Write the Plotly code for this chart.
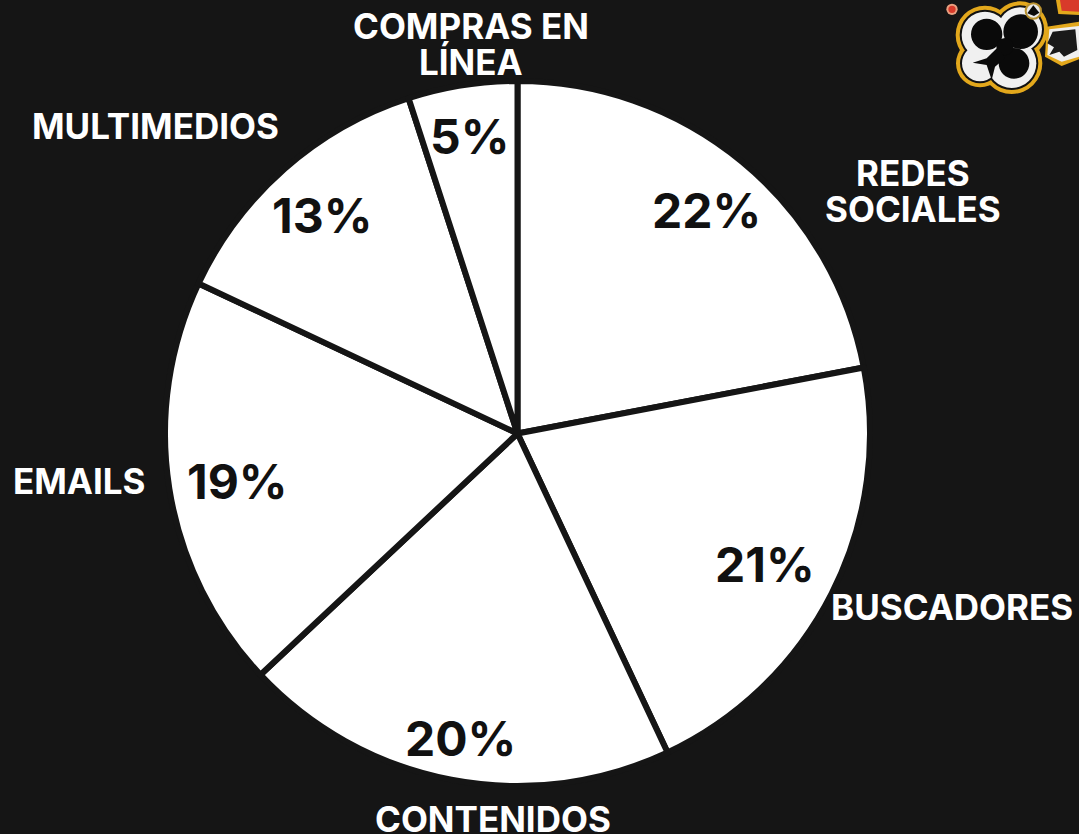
import plotly.graph_objects as go

categories = ["Redes sociales", "Buscadores", "Contenidos", "Emails", "Multimedios", "Compras en línea"]
values = [22, 21, 20, 19, 13, 5]
pct_labels = ["22%", "21%", "20%", "19%", "13%", "5%"]
cat_labels = [
    ("REDES", 913, 173), ("SOCIALES", 913, 209), ("BUSCADORES", 952, 607),
    ("CONTENIDOS", 493, 819), ("EMAILS", 79, 481), ("MULTIMEDIOS", 155, 126),
    ("COMPRAS EN", 471, 26), ("LÍNEA", 471, 62),
]
pct_pos = [(706, 210), (765, 564), (460, 738), (237, 481), (322, 216), (469, 136)]
W, H = 1079, 834
BG = "#151515"
FONT = "Inter, Lato, sans-serif"

fig = go.Figure(go.Pie(
    labels=categories, values=values, sort=False, direction="clockwise", rotation=0,
    marker=dict(colors=["#ffffff"] * 6, line=dict(color=BG, width=6)),
    textinfo="none", hoverinfo="label+percent", showlegend=False,
    domain=dict(x=[165 / W, 870 / W], y=[1 - 786 / H, 1 - 81 / H]),
))
for t, (x, y) in zip(pct_labels, pct_pos):
    fig.add_annotation(text=f"<b>{t}</b>", x=x / W, y=1 - y / H, xref="paper", yref="paper",
                       xanchor="center", yanchor="middle", showarrow=False,
                       font=dict(family=FONT, size=48, color="#111111"))
for t, x, y in cat_labels:
    fig.add_annotation(text=f"<b>{t}</b>", x=x / W, y=1 - y / H, xref="paper", yref="paper",
                       xanchor="center", yanchor="middle", showarrow=False,
                       font=dict(family=FONT, size=35, color="#ffffff"))

# Decorative logo, positions measured in the 3x crop of the reference
def circle(zx, zy, zr, color):
    cx, cy, r = 930 + zx / 3, zy / 3, zr / 3
    fig.add_shape(type="circle", xref="paper", yref="paper", x0=(cx - r) / W, x1=(cx + r) / W,
                  y0=1 - (cy + r) / H, y1=1 - (cy - r) / H, fillcolor=color, line_width=0)

def poly(points, color):
    path = "M" + " L".join(f"{(930 + a / 3) / W} {1 - (b / 3) / H}" for a, b in points) + " Z"
    fig.add_shape(type="path", xref="paper", yref="paper", path=path, fillcolor=color, line_width=0)

def lobes(grow, color):
    for zx, zy, zr in [(165, 105, 88), (270, 88, 84), (245, 190, 92), (150, 190, 72)]:
        circle(zx, zy, zr + grow, color)

# cards behind the club
poly([(378, 0), (447, 0), (447, 45), (385, 42)], "#e3a81c")
poly([(390, 0), (447, 0), (447, 35), (395, 32)], "#d83a2a")
poly([(350, 80), (447, 65), (447, 178), (395, 198), (345, 170)], "#e3a81c")
poly([(358, 88), (447, 78), (447, 170), (395, 185), (352, 165)], "#f0f0f0")
poly([(368, 95), (436, 88), (442, 150), (402, 170), (388, 155), (358, 165), (372, 142), (352, 130)], "#1a1a1a")
circle(66, 28, 17, "#e8a080")
circle(66, 28, 11, "#d83a2a")

lobes(0, "#e3a81c")
lobes(-12, "#111111")
lobes(-18, "#f0f0f0")
for zx, zy, zr in [(170, 103, 47), (272, 95, 52), (252, 190, 46), (225, 140, 26)]:
    circle(zx, zy, zr, "#0a0a0a")
poly([(205, 140), (225, 175), (195, 200), (185, 240), (170, 195), (128, 188), (170, 175)], "#0a0a0a")
circle(310, 33, 26, "#b8912f")
circle(310, 33, 20, "#e8e8e8")
poly([(310, 16), (328, 38), (312, 48), (292, 40)], "#0a0a0a")

fig.update_layout(width=W, height=H, margin=dict(l=0, r=0, t=0, b=0),
                  paper_bgcolor=BG, plot_bgcolor=BG)
fig.write_html("out.html", config=dict(displayModeBar=False),
               post_script=f"document.body.style.margin='0';document.body.style.background='{BG}';")
